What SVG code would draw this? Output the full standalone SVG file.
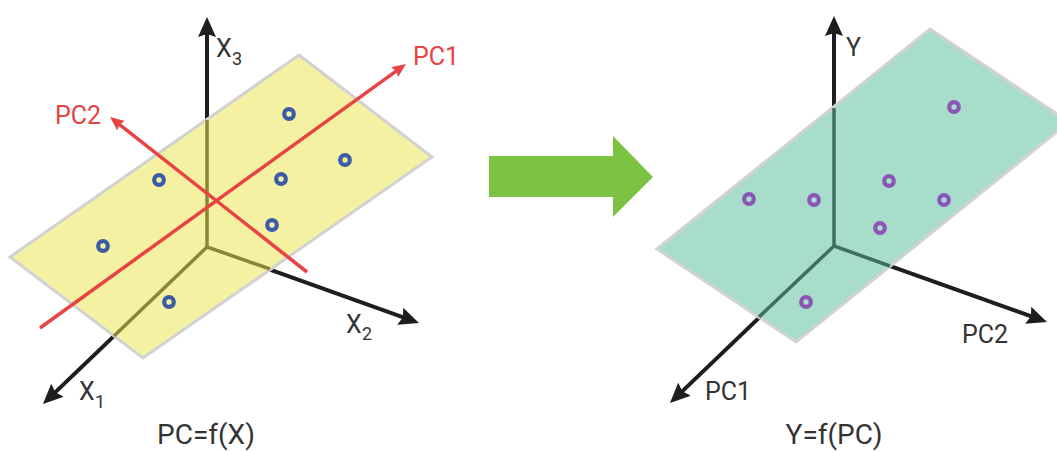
<svg xmlns="http://www.w3.org/2000/svg" width="1057" height="451" viewBox="0 0 1057 451">
<style>
.ax{stroke:#1e1e1e;stroke-width:4;fill:none}
.pc{stroke:#e84343;stroke-width:3.5;fill:none}
.inY{stroke:#8a8638;stroke-width:3.5;fill:none}
.inT{stroke:#3f6f62;stroke-width:3.5;fill:none}
.plane{stroke:#d2d2d2;stroke-width:3}
.ptB{fill:none;stroke:#3b5ba8;stroke-width:4.2}
.ptP{fill:none;stroke:#8a56b3;stroke-width:4.2}
.lbl{font-family:Roboto,"Liberation Sans",sans-serif;font-size:25px;fill:#333}
.sub{font-family:Roboto,"Liberation Sans",sans-serif;font-size:18px;fill:#333}
.red{font-family:Roboto,"Liberation Sans",sans-serif;font-size:25px;fill:#e84343}
.ttl{font-family:Roboto,"Liberation Sans",sans-serif;font-size:28px;fill:#333;text-anchor:middle}
</style>
<defs>
<marker id="ah" viewBox="0 0 20 18" refX="10" refY="9" markerWidth="20" markerHeight="18" markerUnits="userSpaceOnUse" orient="auto">
<path d="M0,0 L20,9 L0,18 L3,9 z" fill="#1e1e1e"/>
</marker>
<marker id="ahr" viewBox="0 0 14 12" refX="7" refY="6" markerWidth="14" markerHeight="12" markerUnits="userSpaceOnUse" orient="auto">
<path d="M0,0 L14,6 L0,12 L2,6 z" fill="#e84343"/>
</marker>
</defs>

<g id="left-axes">
<line class="ax" x1="207" y1="247" x2="207" y2="27" marker-end="url(#ah)"/>
<line class="ax" x1="207" y1="247" x2="409.6" y2="319.6" marker-end="url(#ah)"/>
<line class="ax" x1="207" y1="247" x2="50.2" y2="397.1" marker-end="url(#ah)"/>
</g>
<g id="left-plane">
<polygon class="plane" points="299,55 432,157 143,358 10,257" fill="#f5f1a2"/>
<path class="inY" d="M207,120 L207,247 L270,269 M207,247 L114,336"/>
</g>
<g id="left-pcs">
<line class="pc" x1="40" y1="328" x2="400.3" y2="68.1" marker-end="url(#ahr)"/>
<line class="pc" x1="307" y1="272" x2="115.5" y2="121.3" marker-end="url(#ahr)"/>
</g>
<g id="left-points">
<circle class="ptB" cx="289" cy="114" r="4.8"/>
<circle class="ptB" cx="345" cy="160" r="4.8"/>
<circle class="ptB" cx="159" cy="180" r="4.8"/>
<circle class="ptB" cx="281" cy="179" r="4.8"/>
<circle class="ptB" cx="272" cy="225" r="4.8"/>
<circle class="ptB" cx="103" cy="246" r="4.8"/>
<circle class="ptB" cx="169" cy="302" r="4.8"/>
</g>
<g id="left-labels">
<text class="lbl" x="216" y="57">X</text><text class="sub" x="232" y="65">3</text>
<text class="lbl" x="346" y="333">X</text><text class="sub" x="362" y="340">2</text>
<text class="lbl" x="79" y="400">X</text><text class="sub" x="95" y="408">1</text>
<text class="red" x="413" y="65">PC1</text>
<text class="red" x="55" y="124">PC2</text>
<text class="ttl" x="206" y="444">PC=f(X)</text>
</g>

<g id="transform-arrow">
<polygon points="489,156 613,156 613,136 653,177 613,217 613,197 489,197" fill="#7dc242"/>
</g>

<g id="right-axes">
<line class="ax" x1="834" y1="246" x2="834" y2="26" marker-end="url(#ah)"/>
<line class="ax" x1="834" y1="246" x2="1037.6" y2="318.6" marker-end="url(#ah)"/>
<line class="ax" x1="834" y1="246" x2="677.2" y2="396.1" marker-end="url(#ah)"/>
</g>
<g id="right-plane">
<polygon class="plane" points="930,29 1069,122 796,342 657,249" fill="#a8dccb"/>
<path class="inT" d="M834,108 L834,246 L890,266 M834,246 L759,317"/>
</g>
<g id="right-points">
<circle class="ptP" cx="954" cy="107" r="4.8"/>
<circle class="ptP" cx="749" cy="199" r="4.8"/>
<circle class="ptP" cx="814" cy="200" r="4.8"/>
<circle class="ptP" cx="889" cy="181" r="4.8"/>
<circle class="ptP" cx="944" cy="200" r="4.8"/>
<circle class="ptP" cx="880" cy="228" r="4.8"/>
<circle class="ptP" cx="806" cy="302" r="4.8"/>
</g>
<g id="right-labels">
<text class="lbl" x="846" y="56">Y</text>
<text class="lbl" x="962" y="343">PC2</text>
<text class="lbl" x="705" y="400">PC1</text>
<text class="ttl" x="834" y="444">Y=f(PC)</text>
</g>
</svg>
